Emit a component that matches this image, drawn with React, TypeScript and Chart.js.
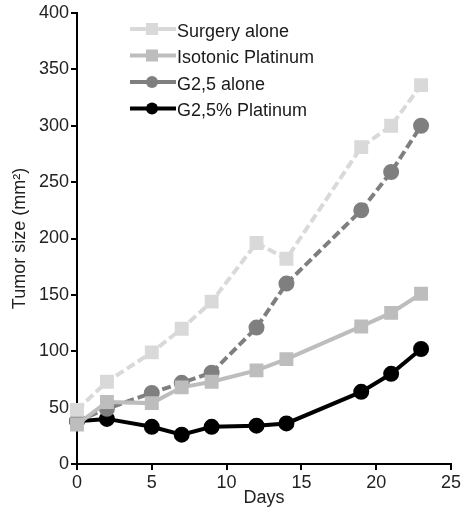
import React, { useEffect, useRef } from "react";
import { Chart, registerables } from "chart.js";

Chart.register(...registerables);

const days = [0, 2, 5, 7, 9, 12, 14, 19, 21, 23];
const surgeryAlone = [48, 73, 99, 120, 144, 196, 182, 281, 300, 336];
const isotonicPlatinum = [35, 55, 54, 68, 73, 83, 93, 122, 134, 151];
const g25Alone = [38, 49, 63, 72, 81, 121, 160, 225, 259, 300];
const g25Platinum = [38, 40, 33, 26, 33, 34, 36, 64, 80, 102];
const seriesNames = ["Surgery alone", "Isotonic Platinum", "G2,5 alone", "G2,5% Platinum"];
const xTicks = [0, 5, 10, 15, 20, 25];

const FONT = "'Liberation Sans', Arial, sans-serif";

const legendPlugin = {
  id: "insideLegend",
  afterDraw(chart: any) {
    const ctx = chart.ctx;
    ctx.save();
    chart.data.datasets.forEach((ds: any, i: number) => {
      const y = 29 + i * 26.5;
      const x0 = 130, x1 = 176, mx = 152;
      ctx.strokeStyle = ds.borderColor;
      ctx.lineWidth = 4;
      ctx.setLineDash([]);
      ctx.beginPath();
      ctx.moveTo(x0, y);
      ctx.lineTo(x1, y);
      ctx.stroke();
      ctx.fillStyle = ds.borderColor;
      if (ds.pointStyle === "rect") {
        ctx.fillRect(mx - 6, y - 6, 12, 12);
      } else {
        ctx.beginPath();
        ctx.arc(mx, y, 6, 0, Math.PI * 2);
        ctx.fill();
      }
      ctx.fillStyle = "#1a1a1a";
      ctx.font = `18px ${FONT}`;
      ctx.textBaseline = "middle";
      ctx.textAlign = "left";
      ctx.fillText(ds.label, 177, y + 3);
    });
    ctx.restore();
  },
};

export default function App() {
  const ref = useRef<HTMLCanvasElement>(null);
  useEffect(() => {
    const mk = (vals: number[]) => days.map((d, i) => ({ x: d, y: vals[i] }));
    const chart = new Chart(ref.current!, {
      type: "line",
      data: {
        datasets: [
          {
            label: seriesNames[0],
            data: mk(surgeryAlone),
            borderColor: "#d9d9d9",
            backgroundColor: "#d9d9d9",
            borderWidth: 4,
            borderDash: [9, 4],
            pointStyle: "rect",
            pointRadius: 7,
            clip: false,
          },
          {
            label: seriesNames[1],
            data: mk(isotonicPlatinum),
            borderColor: "#bdbdbd",
            backgroundColor: "#bdbdbd",
            borderWidth: 4,
            pointStyle: "rect",
            pointRadius: 7,
            clip: false,
          },
          {
            label: seriesNames[2],
            data: mk(g25Alone),
            borderColor: "#7f7f7f",
            backgroundColor: "#7f7f7f",
            borderWidth: 4,
            borderDash: [9, 4],
            pointStyle: "circle",
            pointRadius: 6,
            clip: false,
          },
          {
            label: seriesNames[3],
            data: mk(g25Platinum),
            borderColor: "#000000",
            backgroundColor: "#000000",
            borderWidth: 4,
            pointStyle: "circle",
            pointRadius: 6,
            clip: false,
          },
        ] as any,
      },
      options: {
        animation: false,
        responsive: false,
        devicePixelRatio: 1,
        layout: { padding: { top: 13, right: 11, left: 0, bottom: 0 } },
        plugins: { legend: { display: false }, tooltip: { enabled: false } },
        scales: {
          x: {
            type: "linear",
            min: 0,
            max: 25,
            afterBuildTicks: (s: any) => {
              s.ticks = xTicks.map((v) => ({ value: v }));
            },
            afterFit: (s: any) => {
              s.height = 46;
            },
            grid: { drawOnChartArea: false, color: "#000", lineWidth: 2, tickLength: 6 },
            border: { color: "#000", width: 2 },
            ticks: { color: "#222", font: { family: FONT, size: 18 }, padding: 2, maxRotation: 0 },
            title: { display: true, text: "Days", color: "#222", font: { family: FONT, size: 18 }, padding: { top: 0, bottom: 1 } },
          },
          y: {
            type: "linear",
            min: 0,
            max: 400,
            ticks: { stepSize: 50, color: "#222", font: { family: FONT, size: 18 }, padding: 2 },
            afterFit: (s: any) => {
              s.width = 77;
            },
            grid: { drawOnChartArea: false, color: "#000", lineWidth: 2, tickLength: 6 },
            border: { color: "#000", width: 2 },
            title: { display: true, text: "Tumor size (mm²)", color: "#222", font: { family: FONT, size: 18 }, padding: { top: 9, bottom: 0 } },
          },
        },
      },
      plugins: [legendPlugin],
    });
    return () => chart.destroy();
  }, []);
  return (
    <div style={{ position: "fixed", left: 0, top: 0, width: 463, height: 510, background: "#fff" }}>
      <canvas ref={ref} width={463} height={510} style={{ width: 463, height: 510 }} />
    </div>
  );
}
